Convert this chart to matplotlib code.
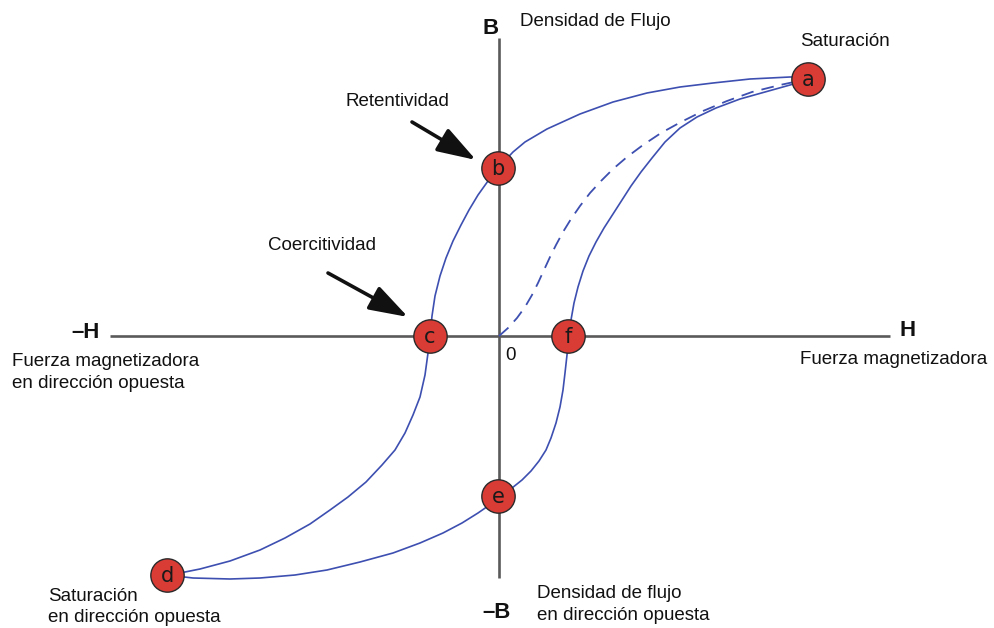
import matplotlib
matplotlib.use("Agg")
import matplotlib.pyplot as plt

plt.rcParams['font.family'] = ['Liberation Sans', 'DejaVu Sans']

# Descending branch a -> b -> c -> d  (H, B)
desc_H = [309, 291, 251, 214, 181, 148, 114, 81, 48, 26, 14, -1, -11, -21, -30, -38, -46,
          -53, -59, -64, -67, -69, -71, -74, -79, -86, -94, -104, -117, -133, -151, -169,
          -189, -214, -239, -269, -299, -319, -332]
desc_B = [259, 259, 257, 253, 249, 243, 234, 222, 207, 194, 184, 168, 155, 141, 126, 111, 95,
          78, 60, 40, 20, 0, -17, -39, -61, -79, -97, -114, -129, -146, -161, -174,
          -188, -202, -214, -225, -233, -237, -239]

# Ascending branch d -> e -> f -> a
asc_H = [-332, -306, -269, -239, -204, -172, -139, -106, -79, -56, -37, -21, -8, 3, 13, 23,
         32, 40, 47, 52, 57, 61, 64, 66, 68, 70, 72, 75, 79, 84, 90, 97, 105, 114, 123, 132,
         142, 153, 166, 181, 198, 217, 241, 266, 291, 309]
asc_B = [-239, -242, -243, -242, -239, -234, -226, -217, -207, -197, -187, -177, -168, -160,
         -152, -144, -135, -125, -114, -102, -87, -71, -54, -37, -19, 0, 16, 33, 49, 65, 80,
         94, 108, 122, 136, 150, 164, 178, 194, 208, 219, 228, 237, 244, 251, 256]

# Initial magnetisation curve (dashed) 0 -> a
init_H = [0, 9, 18, 26, 33, 39, 45, 51, 57, 64, 72, 81, 91, 102, 114, 128, 144, 162, 182,
          204, 228, 253, 281, 309]
init_B = [0, 8, 18, 29, 41, 53, 66, 79, 91, 104, 117, 130, 143, 155, 167, 179, 191, 203, 214,
          225, 235, 244, 251, 257]

# Labelled points
pt_labels = ['a', 'b', 'c', 'd', 'e', 'f']
pt_H = [309, -1, -69, -332, -1, 69]
pt_B = [257, 168, 0, -239, -160, 0]

fig = plt.figure(figsize=(9.94, 6.28), dpi=100)
ax = fig.add_axes([0, 0, 1, 1])
ax.set_xlim(-499, 495)
ax.set_ylim(-292, 336)
ax.axis('off')

axis_col = '#5a5a5a'
curve_col = '#3d4fb0'

# axes
ax.plot([-389, 391], [0, 0], color=axis_col, lw=1.9, zorder=1, solid_capstyle='butt')
ax.plot([0, 0], [298, -242], color=axis_col, lw=1.9, zorder=1, solid_capstyle='butt')

# curves
ax.plot(desc_H, desc_B, color=curve_col, lw=1.2, zorder=2)
ax.plot(asc_H, asc_B, color=curve_col, lw=1.2, zorder=2)
ax.plot(init_H, init_B, color=curve_col, lw=1.3, zorder=2, dashes=(7, 4.5))

# points
ax.plot(pt_H, pt_B, 'o', ms=24, mfc='#d93b35', mec='#2a2a2a', mew=1.0, zorder=4, ls='none')
for lab, h, b in zip(pt_labels, pt_H, pt_B):
    ax.text(h, b - 1, lab, ha='center', va='center', fontsize=15, color='#1a1a1a',
            family=['DejaVu Sans'], zorder=5)

fs = 13.5
tc = '#111111'
ax.text(-8, 308, 'B', fontsize=16, fontweight='bold', ha='center', va='center', color=tc)
ax.text(21, 314, 'Densidad de Flujo', fontsize=fs, ha='left', va='center', color=tc)
ax.text(346, 294, 'Saturación', fontsize=fs, ha='center', va='center', color=tc)
ax.text(-102, 234, 'Retentividad', fontsize=fs, ha='center', va='center', color=tc)
ax.text(-177, 90, 'Coercitividad', fontsize=fs, ha='center', va='center', color=tc)
ax.text(-413, 3, '–H', fontsize=16, fontweight='bold', ha='center', va='center', color=tc)
ax.text(-487, -17, 'Fuerza magnetizadora\nen dirección opuesta', fontsize=fs, ha='left',
        va='top', color=tc, linespacing=1.35)
ax.text(12, -19, '0', fontsize=fs, ha='center', va='center', color=tc)
ax.text(409, 5, 'H', fontsize=16, fontweight='bold', ha='center', va='center', color=tc)
ax.text(301, -24, 'Fuerza magnetizadora', fontsize=fs, ha='left', va='center', color=tc)
ax.text(-451, -252, 'Saturación\nen dirección opuesta', fontsize=fs, ha='left', va='top',
        color=tc, linespacing=1.3)
ax.text(-2, -277, '–B', fontsize=16, fontweight='bold', ha='center', va='center', color=tc)
ax.text(38, -249, 'Densidad de flujo\nen dirección opuesta', fontsize=fs, ha='left', va='top',
        color=tc, linespacing=1.35)

# arrows
arrow_kw = dict(arrowstyle='-|>,head_length=0.85,head_width=0.28', color='#111111', lw=2.6,
                mutation_scale=28, shrinkA=0, shrinkB=0)
ax.annotate('', xy=(-23, 176), xytext=(-87, 214), arrowprops=arrow_kw)
ax.annotate('', xy=(-91, 19), xytext=(-171, 63), arrowprops=arrow_kw)

fig.savefig('out.png', dpi=100)
